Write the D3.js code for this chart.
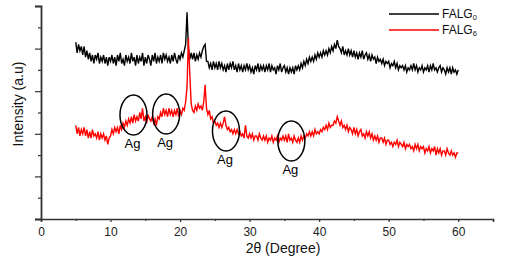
<!DOCTYPE html>
<html><head><meta charset="utf-8">
<script src="https://cdn.jsdelivr.net/npm/d3@7"></script>
<style>
html,body{margin:0;padding:0;background:#fff;}
svg{display:block;}
</style></head>
<body>
<svg id="chart" width="509" height="265"></svg>
<script>
// ---- data ----
const thetaStart = 5;      // first 2θ sample (degree)
const thetaStep = 0.2;     // sampling step (degree)
const falg0 = [
83,78,82,79,81, 77,81,76,79,75, 78,74,77,73,77, 75,78,73,76,74, 77,73,76,72,76,
74,77,73,76,72, 77,74,78,73,75, 72,77,74,76,73, 78,74,76,72,77, 73,76,74,78,72,
76,73,77,75,72, 77,74,78,73,76, 74,77,73,78,75, 77,74,76,73,77, 74,78,75,73,77,
75,78,76,79,82, 97,80,75,78,75, 78,74,77,75,78, 76,79,81,82,74, 74,71,73,70,74,
71,73,70,74,71, 73,70,72,69,73, 70,73,71,74,70, 72,69,73,70,72, 69,72,70,73,70,
72,69,71,68,72, 70,73,69,72,70, 72,69,72,70,73, 69,72,70,71,68, 72,70,73,69,71,
72,69,71,68,71, 69,71,68,72,70, 72,70,73,71,74, 72,75,73,76,74, 76,74,77,75,78,
76,78,76,79,77, 79,77,80,78,81, 79,82,80,84,81, 80,78,81,77,79, 77,80,77,79,76,
79,76,78,75,78, 76,79,75,77,78, 75,77,74,77,75, 76,73,76,74,75, 73,75,72,74,73,
74,71,73,72,74, 71,73,70,72,71, 72,70,72,69,71, 70,72,70,73,70, 72,69,71,70,72,
69,71,70,72,69, 72,70,73,70,71, 69,71,72,69,71, 70,68,71,69,71, 68,71,69,70,68,
70];
const falg6 = [
44,40,43,39,42, 40,43,39,42,38, 41,38,42,39,40, 38,41,37,40,38, 40,37,39,35,38,
39,42,40,43,41, 43,40,44,42,45, 43,46,44,47,45, 48,45,49,46,48, 46,50,47,52,46,
48,45,49,47,46, 48,45,47,44,48, 47,50,48,52,49, 51,48,52,49,51, 48,51,49,52,48,
51,49,52,51,55, 62,85,68,54,51, 50,53,51,54,52, 53,51,55,63,52, 49,51,47,48,45,
46,44,45,43,45, 43,45,48,44,42, 43,41,42,40,42, 40,42,40,41,39, 40,38,44,39,38,
40,38,40,37,39, 39,37,40,38,37, 39,37,39,36,38, 37,39,36,38,37, 39,36,38,37,39,
37,39,36,40,37, 38,36,39,37,36, 38,36,39,37,39, 38,40,39,41,39, 41,39,42,40,41,
40,42,41,43,42, 44,42,45,43,44, 44,46,45,48,46, 44,46,43,44,42, 44,41,43,42,40,
43,40,42,39,41, 42,39,40,38,41, 39,41,38,40,37, 39,37,39,36,38, 38,36,38,35,37,
37,35,36,34,36, 35,37,34,36,35, 34,36,33,35,34, 35,33,34,32,35, 33,35,32,34,33,
34,31,33,32,34, 31,33,32,34,30, 33,31,33,30,32, 32,30,33,31,30, 32,30,31,29,31,
31];
const seriesNames = ["FALG", "FALG"];
const seriesSubs = ["0", "6"];
const xTicks = [0, 10, 20, 30, 40, 50, 60];
const xMinorTicks = [5, 15, 25, 35, 45, 55, 65];
const yTicks = [0, 20, 40, 60, 80, 100];
const yMinorTicks = [10, 30, 50, 70, 90];
const agTheta = [13.3, 18.0, 26.6, 36.0];
const agLevel = [48.8, 49.3, 41.3, 36.6];
const agLabel = "Ag";
const xTitle = "2θ (Degree)";
const yTitle = "Intensity (a.u)";

// ---- drawing ----
const svg = d3.select("#chart");
const x = d3.scaleLinear().domain([0, 65]).range([41, 493]);
const y = d3.scaleLinear().domain([0, 100]).range([219, 6]);
const axisColor = "#333";
const fontAx = "Liberation Sans, Arial, sans-serif";

const toPts = arr => arr.map((v, i) => [thetaStart + i * thetaStep, v]);
const line = d3.line().x(d => x(d[0])).y(d => y(d[1]));

svg.append("path").datum(toPts(falg0)).attr("d", line)
  .attr("fill", "none").attr("stroke", "#000").attr("stroke-width", 1.4);
svg.append("path").datum(toPts(falg6)).attr("d", line)
  .attr("fill", "none").attr("stroke", "#ff0000").attr("stroke-width", 1.4);

// x axis
const gx = svg.append("g").attr("transform", `translate(0,${y(0)})`);
gx.call(d3.axisBottom(x).tickValues(xTicks).tickSize(3).tickPadding(5).tickFormat(d3.format("d")));
gx.append("g").call(d3.axisBottom(x).tickValues(xMinorTicks).tickSize(2).tickFormat(""))
  .select(".domain").remove();
gx.selectAll(".domain").attr("stroke", axisColor).attr("stroke-width", 1.5);
gx.selectAll(".tick line").attr("stroke", axisColor).attr("stroke-width", 1.2);
gx.selectAll(".tick text").attr("font-family", fontAx).attr("font-size", 12).attr("fill", "#222");

// y axis
const gy = svg.append("g").attr("transform", `translate(${x(0)},0)`);
gy.call(d3.axisLeft(y).tickValues(yTicks).tickSize(6).tickFormat(""));
gy.append("g").call(d3.axisLeft(y).tickValues(yMinorTicks).tickSize(3).tickFormat(""))
  .select(".domain").remove();
gy.selectAll(".domain").attr("stroke", axisColor).attr("stroke-width", 1.8);
gy.selectAll(".tick line").attr("stroke", axisColor).attr("stroke-width", 1.2);

// axis titles
svg.append("text").attr("x", 283).attr("y", 253).attr("text-anchor", "middle")
  .attr("font-family", fontAx).attr("font-size", 14).attr("fill", "#111").text(xTitle);
svg.append("text").attr("transform", "translate(23,104) rotate(-90)").attr("text-anchor", "middle")
  .attr("font-family", fontAx).attr("font-size", 14).attr("fill", "#111").text(yTitle);

// Ag annotations
agTheta.forEach((t, i) => {
  const cx = x(t), cy = y(agLevel[i]);
  svg.append("ellipse").attr("cx", cx).attr("cy", cy).attr("rx", 13.5).attr("ry", 20)
    .attr("fill", "none").attr("stroke", "#000").attr("stroke-width", 1.5);
  svg.append("text").attr("x", cx - 1).attr("y", cy + 33).attr("text-anchor", "middle")
    .attr("font-family", fontAx).attr("font-size", 13).attr("fill", "#000").text(agLabel);
});

// legend
const legColors = ["#000", "#ff0000"];
seriesNames.forEach((n, i) => {
  const ly = 14 + i * 16;
  svg.append("line").attr("x1", 389).attr("x2", 439).attr("y1", ly).attr("y2", ly)
    .attr("stroke", legColors[i]).attr("stroke-width", 1.5);
  const t = svg.append("text").attr("x", 442).attr("y", ly + 4)
    .attr("font-family", fontAx).attr("font-size", 12).attr("fill", "#111");
  t.append("tspan").text(n);
  t.append("tspan").attr("font-size", 7.5).attr("dy", 1.5).text(seriesSubs[i]);
});
</script>
</body></html>
